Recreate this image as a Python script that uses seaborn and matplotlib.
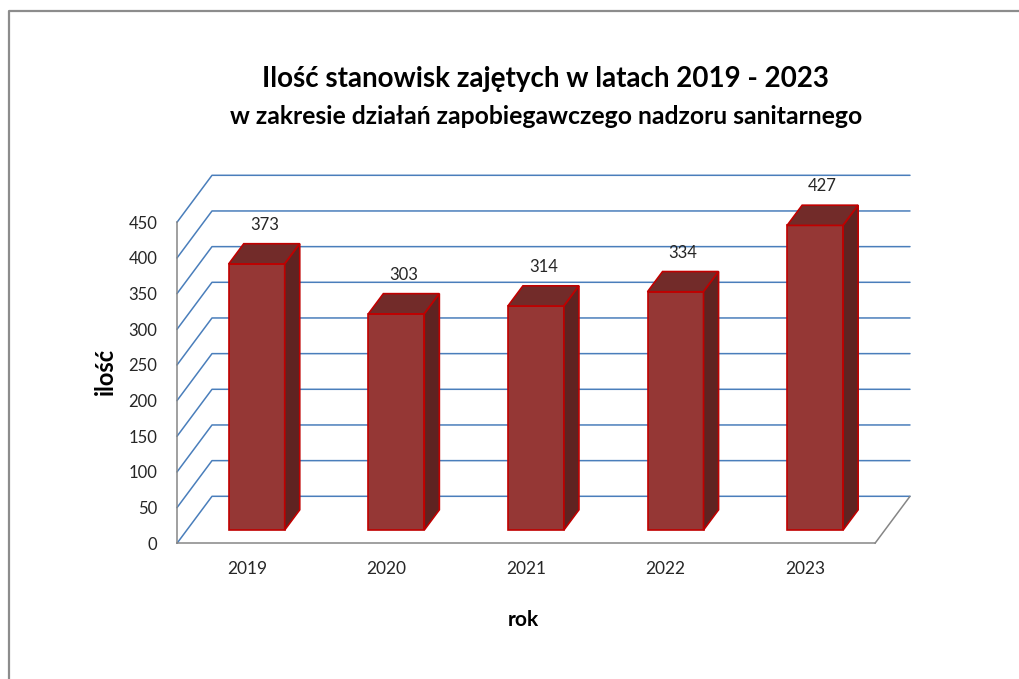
import numpy as np
import pandas as pd
import seaborn as sns
import matplotlib.pyplot as plt
from matplotlib.patches import Polygon
from matplotlib.lines import Line2D

# data
years = ['2019', '2020', '2021', '2022', '2023']
counts = [373, 303, 314, 334, 427]
y_ticks = list(range(0, 451, 50))

sns.set_style('white')
plt.rcParams['font.family'] = ['Lato', 'DejaVu Sans']

W, H = 1019, 679
fig = plt.figure(figsize=(W / 100, H / 100), dpi=100)

# front plane of the fake 3d box: x -0.5..4.5 -> px 177..875, y 0..450 -> px 543..222
px_x = 698 / 5.0
px_y = 321 / 450.0
ax = fig.add_axes([177 / W, (H - 543.3) / H, 698 / W, 520 * px_y / H])
ax.set_xlim(-0.5, 4.5)
ax.set_ylim(0, 520)

# depth of the box (in data units) and where the bars sit inside it
DX = 35 / px_x
DY = 47 / px_y
d_front = 0.283
d_bar = 0.43
bar_w = 56 / px_x

grid_col = '#4a7ebb'
axis_col = '#868686'
face_col = '#953735'
top_col = '#722b29'
side_col = '#5f2321'
edge_col = '#c00000'

# back wall gridlines + diagonals on the left wall
for v in y_ticks:
    ax.plot([-0.5, -0.5 + DX, 4.5 + DX], [v, v + DY, v + DY],
            color=grid_col, lw=1.1, zorder=0.5, clip_on=False)

# floor edge on the right
ax.plot([4.5, 4.5 + DX], [0, DY], color=axis_col, lw=1.1, zorder=0.5, clip_on=False)

df = pd.DataFrame({'pos': np.arange(len(years)) + d_front * DX, 'count': counts})
sns.barplot(data=df, x='pos', y='count', native_scale=True, width=bar_w,
            bottom=d_front * DY, color=face_col, saturation=1,
            edgecolor=edge_col, linewidth=1.2, ax=ax, zorder=2)

bdx = d_bar * DX
bdy = d_bar * DY
for p, val in zip(ax.patches, counts):
    x0, y0 = p.get_x(), p.get_y()
    w, h = p.get_width(), p.get_height()
    top = y0 + h
    ax.add_patch(Polygon([(x0, top), (x0 + w, top), (x0 + w + bdx, top + bdy), (x0 + bdx, top + bdy)],
                         closed=True, facecolor=top_col, edgecolor=edge_col, lw=1.2, zorder=2))
    ax.add_patch(Polygon([(x0 + w, y0), (x0 + w + bdx, y0 + bdy), (x0 + w + bdx, top + bdy), (x0 + w, top)],
                         closed=True, facecolor=side_col, edgecolor=edge_col, lw=1.2, zorder=2))
    ax.annotate(str(val), (x0 + (w + bdx) / 2, top + bdy), xytext=(0, 13.5),
                textcoords='offset points', ha='center', va='center',
                fontsize=12, color='#262626')

ax.set_xlim(-0.5, 4.5)
ax.set_ylim(0, 520)

# axes lines and ticks
for s in ['top', 'right']:
    ax.spines[s].set_visible(False)
ax.spines['left'].set_bounds(0, 450)
ax.spines['bottom'].set_bounds(-0.5, 4.5)
for s in ['left', 'bottom']:
    ax.spines[s].set_color(axis_col)
    ax.spines[s].set_linewidth(1.1)

ax.set_yticks(y_ticks)
ax.set_yticklabels([str(v) for v in y_ticks])
ax.tick_params(axis='y', direction='out', length=3, width=1, color=axis_col,
               pad=11, labelsize=12, labelcolor='#262626')
ax.set_xticks(range(len(years)))
ax.set_xticklabels(years)
ax.set_xticks(np.arange(-0.5, 5, 1), minor=True)
ax.tick_params(axis='x', which='major', length=0, pad=13, labelsize=12.5, labelcolor='#262626')
ax.tick_params(axis='x', which='minor', direction='out', length=4, width=1, color=axis_col)
ax.set_xlabel('')
ax.set_ylabel('')

fig.text(105 / W, 1 - 371 / H, 'ilość', rotation=90, ha='center', va='center',
         fontsize=17, fontweight='bold', color='#000000')
fig.text(523 / W, 1 - 620 / H, 'rok', ha='center', va='center',
         fontsize=15, fontweight='bold', color='#000000')

fig.text(545 / W, 1 - 79 / H, 'Ilość stanowisk zajętych w latach 2019 - 2023',
         ha='center', va='center', fontsize=20, fontweight='bold', color='#000000')
fig.text(546 / W, 1 - 117 / H, 'w zakresie działań zapobiegawczego nadzoru sanitarnego',
         ha='center', va='center', fontsize=17.8, fontweight='bold', color='#000000')

# chart frame (only top and left edges visible)
fig.add_artist(Line2D([8.5 / W, 8.5 / W, 1.0], [0.0, 1 - 11 / H, 1 - 11 / H],
                      transform=fig.transFigure, color='#8c8c8c', lw=1.6))

fig.savefig('out.png', dpi=100)
